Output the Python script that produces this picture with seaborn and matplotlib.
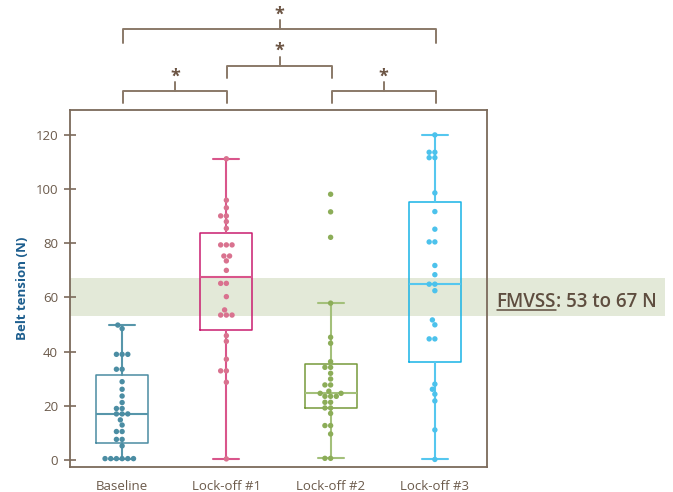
import numpy as np
import pandas as pd
import matplotlib
matplotlib.use("Agg")
import matplotlib.pyplot as plt
import matplotlib.transforms as mtransforms
from matplotlib.lines import Line2D
import seaborn as sns

# ---- data -------------------------------------------------------------
groups = ["Baseline", "Lock-off #1", "Lock-off #2", "Lock-off #3"]

baseline = [49.8, 48.5, 39.0, 39.0, 39.0, 33.5, 33.5, 28.9, 26.1, 23.6, 21.2,
            19.0, 19.0, 17.0, 17.0, 17.0, 14.8, 12.9, 10.5, 10.5, 7.6, 7.6,
            5.2, 0.5, 0.5, 0.5, 0.5, 0.5, 0.5]
lockoff1 = [111.2, 95.9, 93.1, 90.1, 90.1, 88.0, 85.5, 79.4, 79.4, 79.4, 75.3,
            75.3, 73.5, 70.0, 65.2, 65.2, 60.3, 55.4, 53.5, 53.5, 53.5, 45.9,
            43.8, 37.2, 32.9, 32.9, 28.7, 0.4]
lockoff2 = [98.1, 91.6, 82.2, 57.9, 45.3, 43.1, 36.3, 34.2, 34.2, 32.0, 29.9,
            27.7, 27.7, 25.4, 24.6, 24.6, 23.5, 23.5, 23.5, 21.3, 21.3, 19.2,
            19.2, 17.2, 12.7, 12.7, 9.6, 0.6, 0.6]
lockoff3 = [120.0, 113.6, 113.6, 111.6, 111.6, 98.6, 91.7, 85.2, 80.5, 80.5,
            71.8, 68.4, 64.9, 64.9, 62.5, 51.7, 49.9, 44.7, 44.7, 28.0, 26.1,
            24.3, 21.8, 11.1, 0.2]

fmvss_low, fmvss_high = 53, 67
yticks = [0, 20, 40, 60, 80, 100, 120]

# significant pairwise comparisons (group index a, group index b, level)
comparisons = [(0, 1, 0), (2, 3, 0), (1, 2, 1), (0, 3, 2)]

# ---- styling ------------------------------------------------------------
edge_colors = ["#4a8ca2", "#c91c6f", "#769a3b", "#18b3e6"]
line_colors = ["#5796aa", "#d9558b", "#a3c07a", "#55c7ef"]
dot_colors = ["#4b8da3", "#d9728f", "#8cad58", "#4cc2ec"]
frame_color = "#7b6a5b"
text_color = "#6b5a4b"
label_blue = "#1d5e8e"

sns.set_theme(style="white")
plt.rcParams["font.family"] = ["Open Sans", "DejaVu Sans"]

fig = plt.figure(figsize=(6.73, 4.92), dpi=100)
ax = fig.add_axes([0.1040, 0.0508, 0.6196, 0.7256])

df = pd.DataFrame({
    "group": np.repeat(groups, [len(baseline), len(lockoff1), len(lockoff2), len(lockoff3)]),
    "tension": baseline + lockoff1 + lockoff2 + lockoff3,
})

# FMVSS reference band, running from the axes edge out under its label
band_tr = mtransforms.blended_transform_factory(fig.transFigure, ax.transData)
ax.fill_between([0.1040, 0.988], fmvss_low, fmvss_high, transform=band_tr,
                color="#e3e9d8", lw=0, zorder=0, clip_on=False)

# boxes: quartiles with the (n+1)p convention, whiskers at 1.5 IQR
stats = []
for name, vals in zip(groups, [baseline, lockoff1, lockoff2, lockoff3]):
    v = np.asarray(vals)
    q1, med, q3 = np.percentile(v, [25, 50, 75], method="weibull")
    iqr = q3 - q1
    hi = v[v <= q3 + 1.5 * iqr].max()
    lo = v[v >= q1 - 1.5 * iqr].min()
    stats.append(dict(label=name, q1=q1, med=med, q3=q3, whislo=lo, whishi=hi, fliers=[]))

parts = ax.bxp(stats, positions=range(len(groups)), widths=0.5, showfliers=False,
               patch_artist=False, manage_ticks=False)
for i in range(len(groups)):
    parts["boxes"][i].set(color=edge_colors[i], lw=1.1, zorder=2)
    parts["medians"][i].set(color=line_colors[i], lw=1.5, zorder=2)
    for art in parts["whiskers"][2 * i:2 * i + 2] + parts["caps"][2 * i:2 * i + 2]:
        art.set(color=line_colors[i], lw=1.5, zorder=2)

sns.swarmplot(data=df, x="group", y="tension", hue="group", order=groups,
              hue_order=groups, palette=dot_colors, size=3.9, legend=False,
              linewidth=0, ax=ax, zorder=3)

ax.set_xlim(-0.5, 3.5)
ax.set_ylim(-2.6, 129.2)
ax.set_yticks(yticks)
ax.set_xlabel("")
ax.set_ylabel("Belt tension (N)", color=label_blue, fontweight="bold",
              fontsize=9.5, labelpad=5)
ax.tick_params(axis="y", direction="inout", length=9, width=1.2,
               color=frame_color, labelcolor=text_color, labelsize=9.5, pad=4, left=True)
ax.tick_params(axis="x", length=0, labelcolor=text_color, labelsize=9.5, pad=9)
for s in ax.spines.values():
    s.set_color(frame_color)
    s.set_linewidth(1.3)
    s.set_zorder(4)

# significance brackets above the axes
br_tr = mtransforms.blended_transform_factory(ax.transData, fig.transFigure)
levels = {0: (0.815, 0.7907, 0.8333, 0.8446),
          1: (0.8659, 0.8415, 0.8841, 0.8964),
          2: (0.941, 0.9126, 0.9593, 0.9706)}
for a, b, lev in comparisons:
    yh, yleg, ytick, ystar = levels[lev]
    xa, xb = a + 0.01, b + 0.01
    mid = (xa + xb) / 2
    fig.add_artist(Line2D([xa, xa, xb, xb], [yleg, yh, yh, yleg], transform=br_tr,
                          color="#8a7968", lw=1.4))
    fig.add_artist(Line2D([mid, mid], [yh, ytick], transform=br_tr,
                          color="#8a7968", lw=1.4))
    fig.text(mid, ystar, "*", transform=br_tr, ha="center", va="center",
             fontsize=13, fontweight="bold", color="#6b5443")

# band label with underlined standard name
label_kw = dict(fontsize=13.5, color="#5e4d3f", va="center", fontweight="semibold")
t1 = fig.text(0.738, 0.386, "FMVSS", ha="left", **label_kw)
fig.canvas.draw()
renderer = fig.canvas.get_renderer()
bb = t1.get_window_extent(renderer).transformed(fig.transFigure.inverted())
fig.text(bb.x1, 0.386, ": 53 to 67 N", ha="left", **label_kw)
fig.add_artist(Line2D([bb.x0, bb.x1], [bb.y0 + 0.004, bb.y0 + 0.004],
                      transform=fig.transFigure, color="#5e4d3f", lw=1.1))

fig.savefig("out.png", dpi=100)
